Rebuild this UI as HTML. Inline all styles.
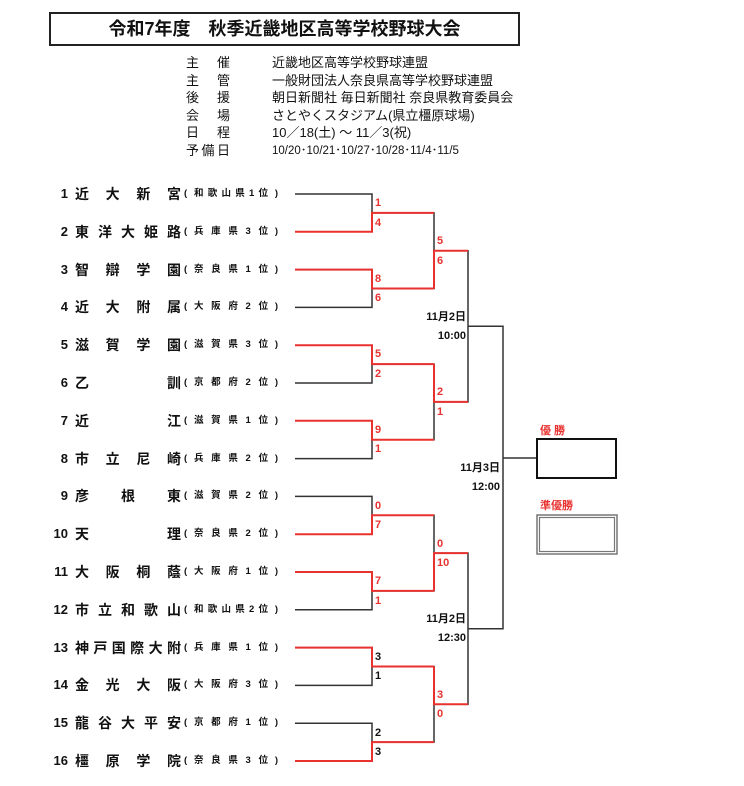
<!DOCTYPE html>
<html><head><meta charset="utf-8">
<style>
*{margin:0;padding:0;box-sizing:border-box}
body{width:744px;height:786px;background:#fff;position:relative;overflow:hidden;font-family:"Liberation Sans","Noto Sans CJK JP",sans-serif;color:#111}
.a{position:absolute;white-space:nowrap}
.title{left:49px;top:12px;width:471px;height:34px;border:2px solid #222;text-align:center;font-size:18px;font-weight:bold;line-height:30px}
.lab{left:186px;width:44px;font-size:13px;display:flex;justify-content:space-between;line-height:16px}
.val{left:272px;font-size:13px;line-height:16px}
.num{left:40px;width:28px;text-align:right;font-size:13px;font-weight:bold;line-height:16px}
.nm{left:75px;width:106px;display:flex;justify-content:space-between;font-size:14px;font-weight:bold;line-height:16px}
.pf{left:184px;width:94px;display:flex;justify-content:space-between;font-size:9.5px;font-weight:bold;line-height:16px}
.pi{display:flex;justify-content:space-between;width:74px}
.dt{font-size:11px;font-weight:bold;text-align:right;line-height:14px}
.red{color:#e8322f}
</style></head><body>
<div class="a title">令和7年度　秋季近畿地区高等学校野球大会</div>

<div class="a lab" style="top:55px"><span>主</span><span>催</span></div><div class="a val" style="top:55px">近畿地区高等学校野球連盟</div>
<div class="a lab" style="top:73px"><span>主</span><span>管</span></div><div class="a val" style="top:73px">一般財団法人奈良県高等学校野球連盟</div>
<div class="a lab" style="top:90px"><span>後</span><span>援</span></div><div class="a val" style="top:90px">朝日新聞社 毎日新聞社 奈良県教育委員会</div>
<div class="a lab" style="top:108px"><span>会</span><span>場</span></div><div class="a val" style="top:108px">さとやくスタジアム(県立橿原球場)</div>
<div class="a lab" style="top:125px"><span>日</span><span>程</span></div><div class="a val" style="top:125px">10／18(土) ～ 11／3(祝)</div>
<div class="a lab" style="top:143px"><span>予</span><span>備</span><span>日</span></div><div class="a val" style="top:143px;font-size:11.5px">10/20･10/21･10/27･10/28･11/4･11/5</div>

<div class="a num" style="top:186px">1</div><div class="a nm" style="top:186px"><span>近</span><span>大</span><span>新</span><span>宮</span></div><div class="a pf" style="top:186px"><span>(</span><span class="pi"><span>和</span><span>歌</span><span>山</span><span>県</span><span>1</span><span>位</span></span><span>)</span></div>
<div class="a num" style="top:224px">2</div><div class="a nm" style="top:224px"><span>東</span><span>洋</span><span>大</span><span>姫</span><span>路</span></div><div class="a pf" style="top:224px"><span>(</span><span class="pi"><span>兵</span><span>庫</span><span>県</span><span>3</span><span>位</span></span><span>)</span></div>
<div class="a num" style="top:262px">3</div><div class="a nm" style="top:262px"><span>智</span><span>辯</span><span>学</span><span>園</span></div><div class="a pf" style="top:262px"><span>(</span><span class="pi"><span>奈</span><span>良</span><span>県</span><span>1</span><span>位</span></span><span>)</span></div>
<div class="a num" style="top:299px">4</div><div class="a nm" style="top:299px"><span>近</span><span>大</span><span>附</span><span>属</span></div><div class="a pf" style="top:299px"><span>(</span><span class="pi"><span>大</span><span>阪</span><span>府</span><span>2</span><span>位</span></span><span>)</span></div>
<div class="a num" style="top:337px">5</div><div class="a nm" style="top:337px"><span>滋</span><span>賀</span><span>学</span><span>園</span></div><div class="a pf" style="top:337px"><span>(</span><span class="pi"><span>滋</span><span>賀</span><span>県</span><span>3</span><span>位</span></span><span>)</span></div>
<div class="a num" style="top:375px">6</div><div class="a nm" style="top:375px"><span>乙</span><span>訓</span></div><div class="a pf" style="top:375px"><span>(</span><span class="pi"><span>京</span><span>都</span><span>府</span><span>2</span><span>位</span></span><span>)</span></div>
<div class="a num" style="top:413px">7</div><div class="a nm" style="top:413px"><span>近</span><span>江</span></div><div class="a pf" style="top:413px"><span>(</span><span class="pi"><span>滋</span><span>賀</span><span>県</span><span>1</span><span>位</span></span><span>)</span></div>
<div class="a num" style="top:451px">8</div><div class="a nm" style="top:451px"><span>市</span><span>立</span><span>尼</span><span>崎</span></div><div class="a pf" style="top:451px"><span>(</span><span class="pi"><span>兵</span><span>庫</span><span>県</span><span>2</span><span>位</span></span><span>)</span></div>
<div class="a num" style="top:488px">9</div><div class="a nm" style="top:488px"><span>彦</span><span>根</span><span>東</span></div><div class="a pf" style="top:488px"><span>(</span><span class="pi"><span>滋</span><span>賀</span><span>県</span><span>2</span><span>位</span></span><span>)</span></div>
<div class="a num" style="top:526px">10</div><div class="a nm" style="top:526px"><span>天</span><span>理</span></div><div class="a pf" style="top:526px"><span>(</span><span class="pi"><span>奈</span><span>良</span><span>県</span><span>2</span><span>位</span></span><span>)</span></div>
<div class="a num" style="top:564px">11</div><div class="a nm" style="top:564px"><span>大</span><span>阪</span><span>桐</span><span>蔭</span></div><div class="a pf" style="top:564px"><span>(</span><span class="pi"><span>大</span><span>阪</span><span>府</span><span>1</span><span>位</span></span><span>)</span></div>
<div class="a num" style="top:602px">12</div><div class="a nm" style="top:602px"><span>市</span><span>立</span><span>和</span><span>歌</span><span>山</span></div><div class="a pf" style="top:602px"><span>(</span><span class="pi"><span>和</span><span>歌</span><span>山</span><span>県</span><span>2</span><span>位</span></span><span>)</span></div>
<div class="a num" style="top:640px">13</div><div class="a nm" style="top:640px"><span>神</span><span>戸</span><span>国</span><span>際</span><span>大</span><span>附</span></div><div class="a pf" style="top:640px"><span>(</span><span class="pi"><span>兵</span><span>庫</span><span>県</span><span>1</span><span>位</span></span><span>)</span></div>
<div class="a num" style="top:677px">14</div><div class="a nm" style="top:677px"><span>金</span><span>光</span><span>大</span><span>阪</span></div><div class="a pf" style="top:677px"><span>(</span><span class="pi"><span>大</span><span>阪</span><span>府</span><span>3</span><span>位</span></span><span>)</span></div>
<div class="a num" style="top:715px">15</div><div class="a nm" style="top:715px"><span>龍</span><span>谷</span><span>大</span><span>平</span><span>安</span></div><div class="a pf" style="top:715px"><span>(</span><span class="pi"><span>京</span><span>都</span><span>府</span><span>1</span><span>位</span></span><span>)</span></div>
<div class="a num" style="top:753px">16</div><div class="a nm" style="top:753px"><span>橿</span><span>原</span><span>学</span><span>院</span></div><div class="a pf" style="top:753px"><span>(</span><span class="pi"><span>奈</span><span>良</span><span>県</span><span>3</span><span>位</span></span><span>)</span></div>

<svg class="a" style="left:0;top:0" width="744" height="786">
<g stroke="#333" stroke-width="1.5" fill="none">
<path d="M295 194H372V231.8H295M295 269.6H372V307.4H295M295 345.2H372V383H295M295 420.8H372V458.6H295M295 496.4H372V534.2H295M295 572H372V609.8H295M295 647.6H372V685.4H295M295 723.2H372V761H295"/>
<path d="M372 212.9H434V288.5H372M372 364.1H434V439.7H372M372 515.3H434V590.9H372M372 666.5H434V742.1H372"/>
<path d="M434 250.7H468V401.9H434M434 553.1H468V704.3H434"/>
<path d="M468 326.3H503V628.7H468M503 458H537"/>
</g>
<g stroke="#e8322f" stroke-width="2" fill="none">
<path d="M295 231.8H372V212.9H434"/>
<path d="M295 269.6H372V288.5H434"/>
<path d="M434 288.5V250.7H468"/>
<path d="M295 345.2H372V364.1H434"/>
<path d="M295 420.8H372V439.7H434"/>
<path d="M434 364.1V401.9H468"/>
<path d="M295 534.2H372V515.3H434"/>
<path d="M295 572H372V590.9H434"/>
<path d="M434 590.9V553.1H468"/>
<path d="M295 647.6H372V666.5H434"/>
<path d="M295 761H372V742.1H434"/>
<path d="M434 666.5V704.3H468"/>
</g>
<g font-family="Liberation Sans, sans-serif" font-size="11" font-weight="bold" dominant-baseline="central">
<g fill="#e8322f">
<text x="375" y="203">1</text><text x="375" y="223">4</text>
<text x="375" y="279">8</text><text x="375" y="298">6</text>
<text x="437" y="241">5</text><text x="437" y="261">6</text>
<text x="375" y="354">5</text><text x="375" y="374">2</text>
<text x="375" y="430">9</text><text x="375" y="449">1</text>
<text x="437" y="392">2</text><text x="437" y="412">1</text>
<text x="375" y="506">0</text><text x="375" y="525">7</text>
<text x="375" y="581">7</text><text x="375" y="601">1</text>
<text x="437" y="544">0</text><text x="437" y="563">10</text>
<text x="437" y="695">3</text><text x="437" y="714">0</text>
</g>
<g fill="#111">
<text x="375" y="657">3</text><text x="375" y="676">1</text>
<text x="375" y="733">2</text><text x="375" y="752">3</text>
</g>
</g>
<rect x="537" y="439" width="79" height="39" fill="none" stroke="#111" stroke-width="2"/>
<rect x="537" y="515" width="80" height="39" fill="none" stroke="#777" stroke-width="1.5"/>
<rect x="539.5" y="517.5" width="75" height="34" fill="none" stroke="#777" stroke-width="1.2"/>
</svg>

<div class="a dt" style="left:400px;top:310px;width:66px">11月2日</div>
<div class="a dt" style="left:400px;top:329px;width:66px">10:00</div>
<div class="a dt" style="left:400px;top:612px;width:66px">11月2日</div>
<div class="a dt" style="left:400px;top:631px;width:66px">12:30</div>
<div class="a dt" style="left:430px;top:461px;width:70px">11月3日</div>
<div class="a dt" style="left:430px;top:480px;width:70px">12:00</div>
<div class="a dt red" style="left:540px;top:424px;text-align:left">優 勝</div>
<div class="a dt red" style="left:540px;top:499px;text-align:left">準優勝</div>
</body></html>
